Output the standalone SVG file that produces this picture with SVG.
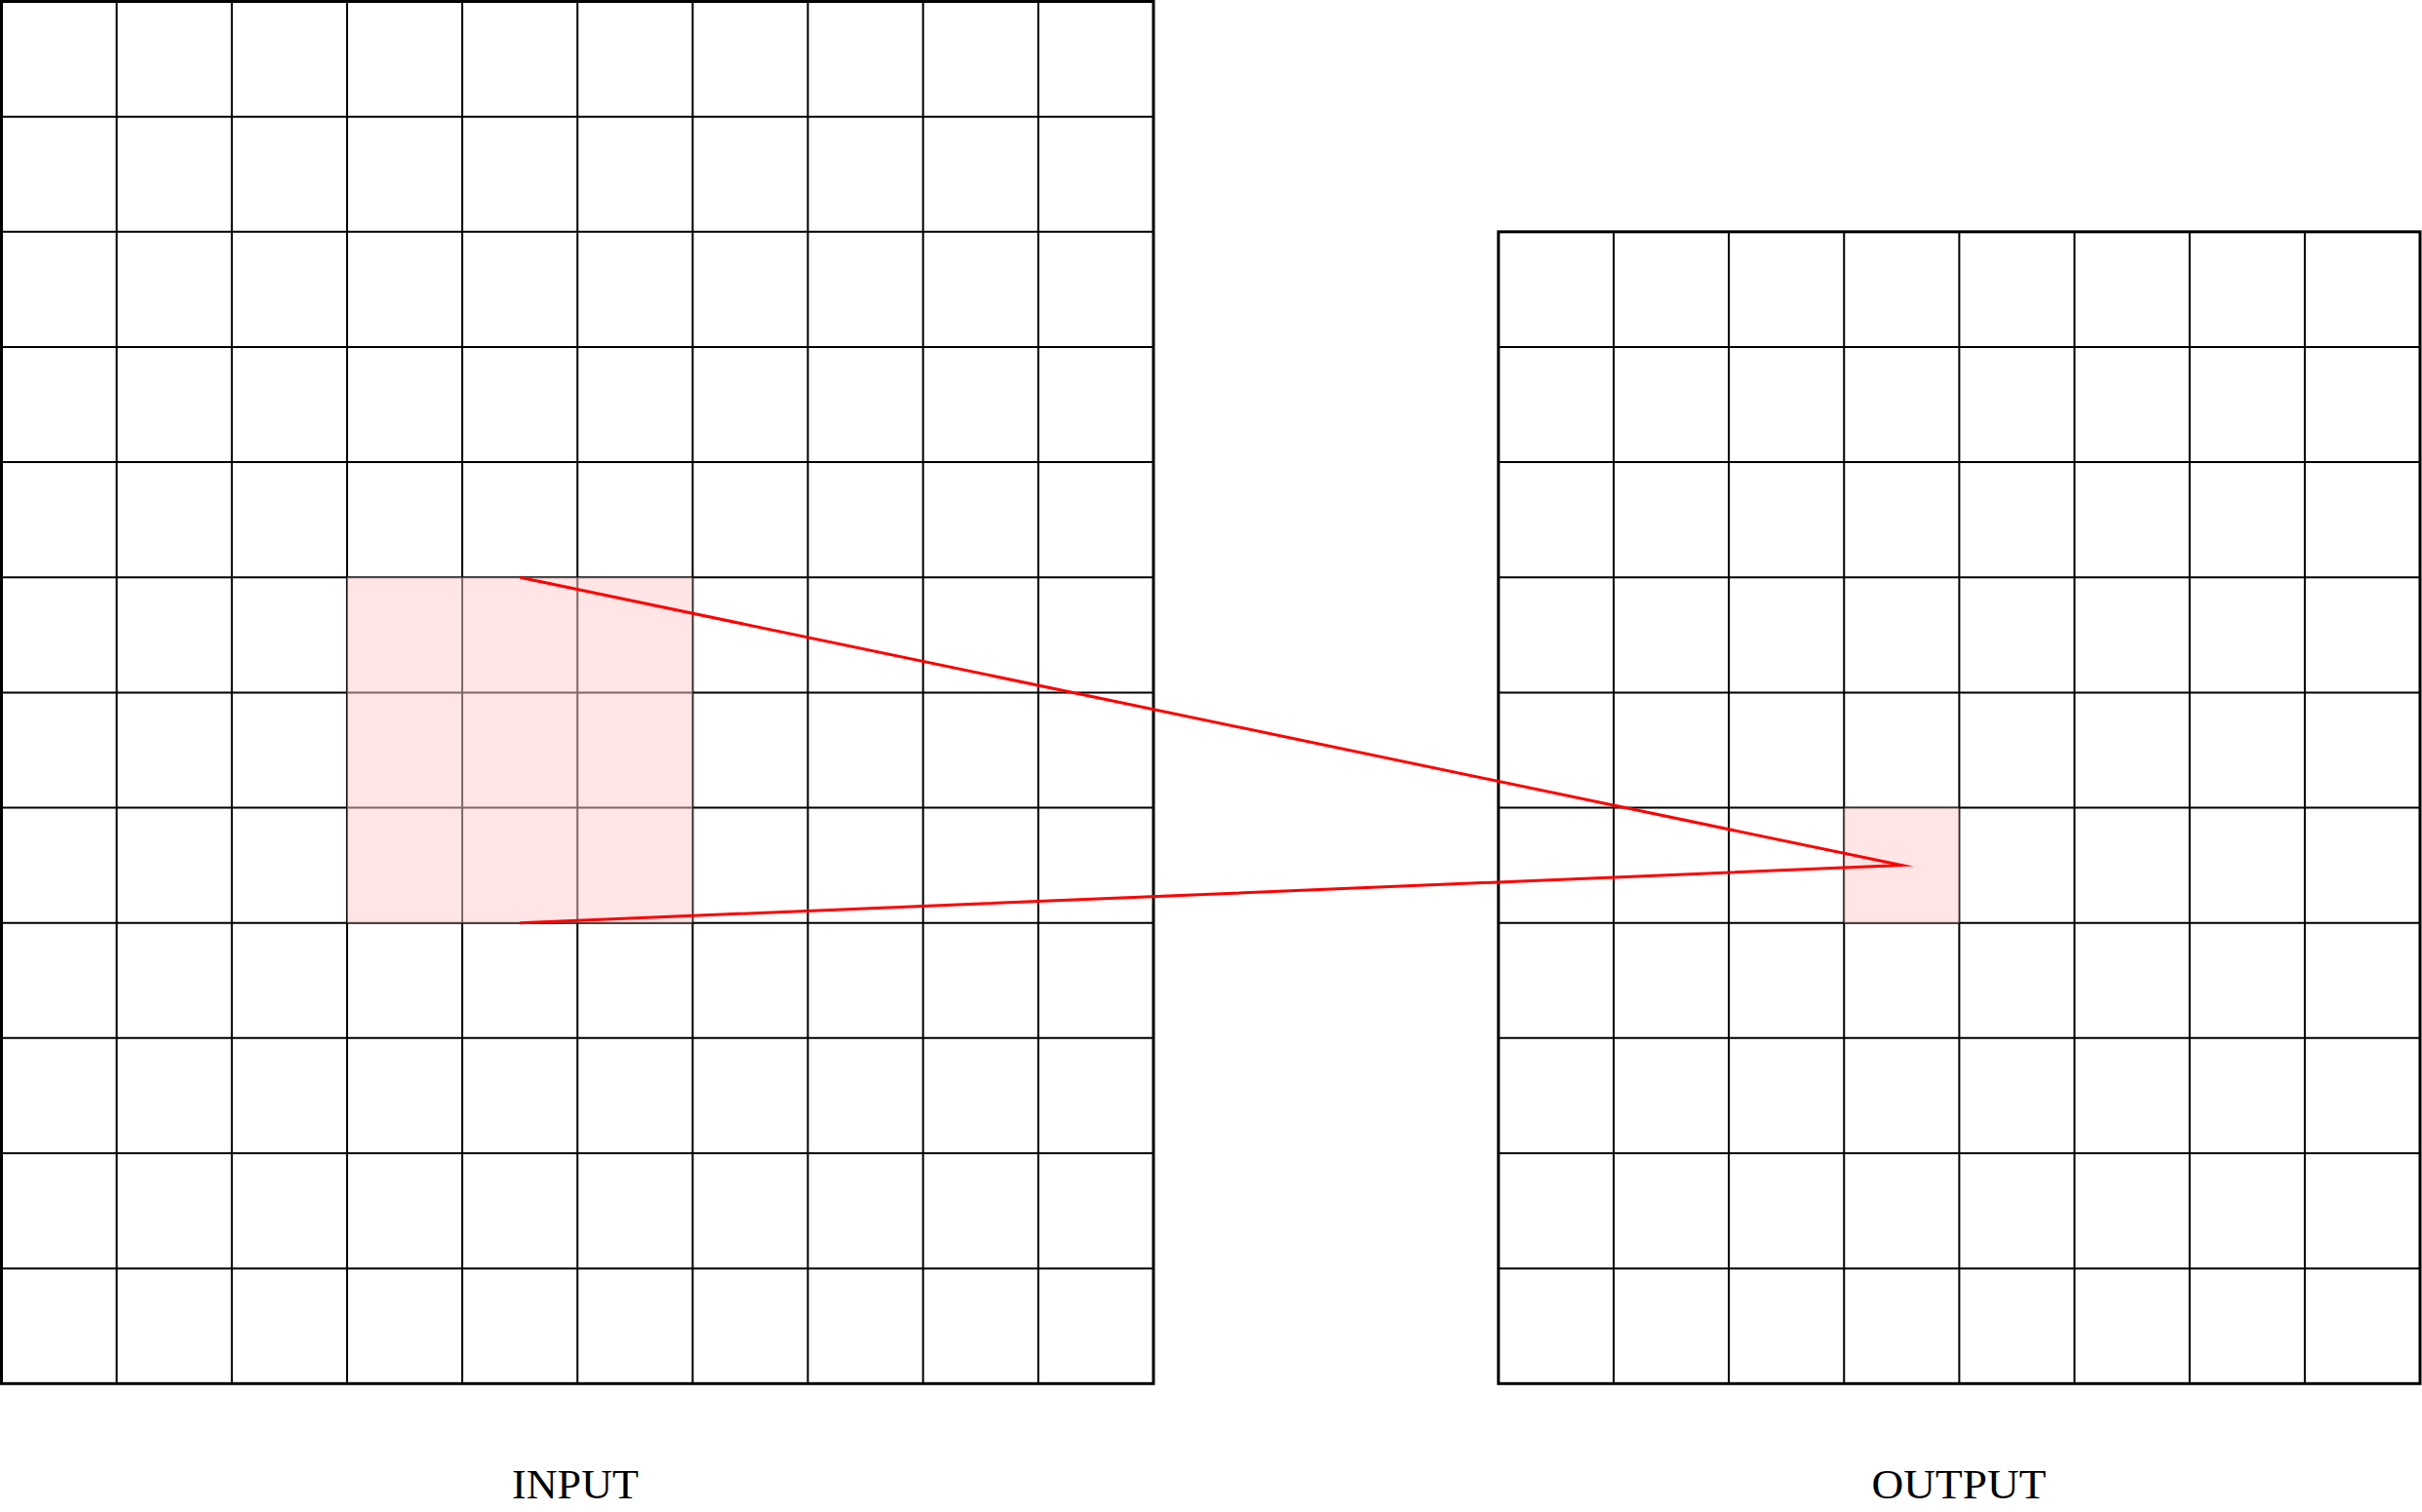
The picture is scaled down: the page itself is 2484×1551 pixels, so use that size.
<svg xmlns="http://www.w3.org/2000/svg" width="2484" height="1551" viewBox="0 0 2484 1551">
<style>
.grid{fill:none;stroke:#000;stroke-width:2}
.frame{fill:none;stroke:#000;stroke-width:3}
.hl{fill:#ffcbcb;fill-opacity:0.5;stroke:none}
.conn{fill:none;stroke:#ff0000;stroke-width:3;stroke-linejoin:miter;stroke-miterlimit:12}
.lbl{font-family:"Liberation Serif","Times New Roman",serif;font-size:43px;fill:#000;text-anchor:middle}
</style>
<rect width="2484" height="1551" fill="#fff"/>
<g id="input-grid">
<path class="grid" d="M119.65 1.5V1419.3M237.8 1.5V1419.3M355.95 1.5V1419.3M474.1 1.5V1419.3M592.25 1.5V1419.3M710.4 1.5V1419.3M828.55 1.5V1419.3M946.7 1.5V1419.3M1064.85 1.5V1419.3
M1.5 119.65H1183M1.5 237.8H1183M1.5 355.95H1183M1.5 474.1H1183M1.5 592.25H1183M1.5 710.4H1183M1.5 828.55H1183M1.5 946.7H1183M1.5 1064.85H1183M1.5 1183H1183M1.5 1301.15H1183"/>
<rect class="frame" x="1.5" y="1.5" width="1181.5" height="1417.8"/>
</g>
<g id="output-grid">
<path class="grid" d="M1654.95 237.8V1419.3M1773.1 237.8V1419.3M1891.25 237.8V1419.3M2009.4 237.8V1419.3M2127.55 237.8V1419.3M2245.7 237.8V1419.3M2363.85 237.8V1419.3
M1536.8 355.95H2482M1536.8 474.1H2482M1536.8 592.25H2482M1536.8 710.4H2482M1536.8 828.55H2482M1536.8 946.7H2482M1536.8 1064.85H2482M1536.8 1183H2482M1536.8 1301.15H2482"/>
<rect class="frame" x="1536.8" y="237.8" width="945.2" height="1181.5"/>
</g>
<g id="input-receptive-field">
<rect class="hl" x="355.95" y="592.25" width="354.45" height="354.45"/>
</g>
<g id="output-cell">
<rect class="hl" x="1891.25" y="828.55" width="118.15" height="118.15"/>
</g>
<g id="connectors">
<polyline class="conn" points="533.2,592.25 1950.3,887.6 533.2,946.7"/>
</g>
<g id="labels">
<text class="lbl" x="590" y="1537" textLength="130" lengthAdjust="spacingAndGlyphs">INPUT</text>
<text class="lbl" x="2009" y="1537" textLength="179" lengthAdjust="spacingAndGlyphs">OUTPUT</text>
</g>
</svg>
